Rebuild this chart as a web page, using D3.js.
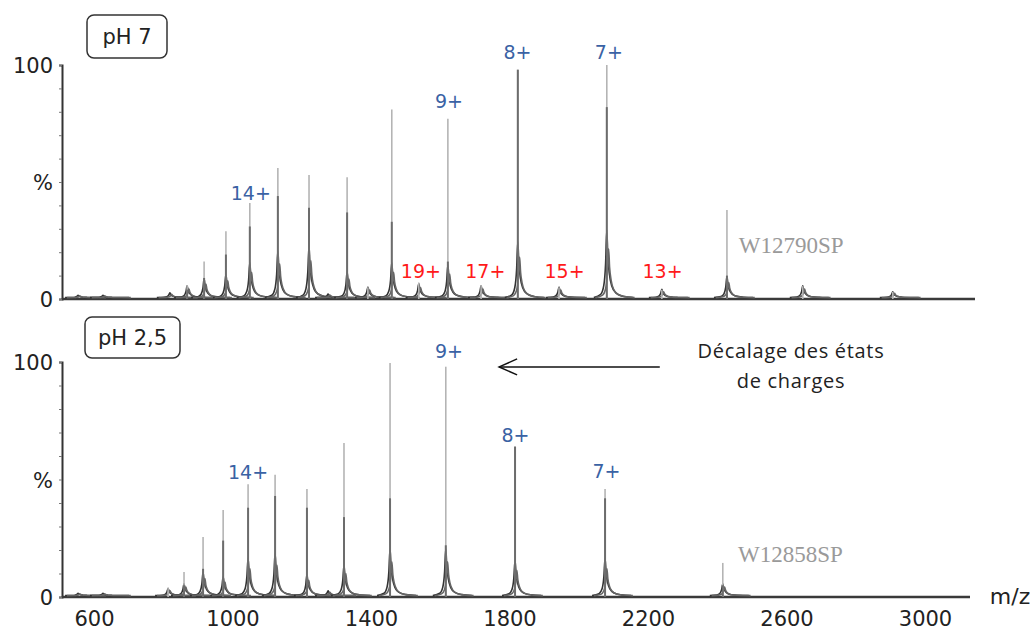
<!DOCTYPE html>
<html>
<head>
<meta charset="utf-8">
<script src="https://cdn.jsdelivr.net/npm/d3@7"></script>
<style>
  body { margin: 0; background: #fff; }
  svg { display: block; }
  .num { font-family: "DejaVu Sans", Verdana, sans-serif; fill: #222; }
  .chg { font-family: "DejaVu Sans", Verdana, sans-serif; font-size: 19px; }
  .code { font-family: "Liberation Serif", "Times New Roman", serif; font-size: 23px; fill: #9a9a9a; }
  .note { font-family: "Open Sans", sans-serif; font-size: 20px; fill: #222; letter-spacing: 0.7px; }
</style>
</head>
<body>
<svg id="chart" width="1036" height="631"></svg>
<script>
// ------------------------------------------------------------
// Data (m/z, relative intensity %)
// ------------------------------------------------------------
const mzTicks = [600, 1000, 1400, 1800, 2200, 2600, 3000];
const yTickValues = [100, 50, 0];
const yTickLabels = ['100', '%', '0'];

// pH 7
const topMz   = [554, 626, 819, 869, 918, 981, 1050, 1131, 1221, 1276, 1331, 1391, 1460, 1538, 1622, 1718, 1824, 1943, 2081, 2240, 2428, 2647, 2907];
const topInt  = [1, 1, 2, 6, 16, 29, 41, 56, 53, 1.5, 52, 5, 81, 7, 77, 6, 98, 5, 100, 4, 38, 5.5, 3];
const topCore = [0, 0, 0, 4, 9, 19, 31, 44, 39, 0, 37, 0, 33, 0, 16, 0, 98, 0, 82, 0, 10, 0, 0];
const topFoot = [1, 1, 2, 5, 8, 10, 15, 20, 22, 1.5, 11, 4.5, 15, 6, 14, 5, 24, 4.5, 29, 3.5, 9, 5, 2.5];

// pH 2,5
const botMz   = [554, 626, 814, 860, 915, 973, 1045, 1123, 1215, 1276, 1322, 1455, 1616, 1816, 2076, 2416];
const botInt  = [1, 1, 4, 10.6, 25.5, 37, 48, 52, 46, 2, 65.5, 99.6, 98, 64, 46, 14.5];
const botCore = [0, 0, 0, 5, 12, 24, 38, 43, 38, 0, 34, 42, 22, 64, 42, 5];
const botFoot = [1, 1, 3, 5, 10, 8, 16, 18, 9, 2, 13, 20, 20, 15, 16, 5];

// charge-state labels: text, m/z of label centre, label baseline in %
const topLabels = ['14+', '9+', '8+', '7+'];
const topLabelMz = [1053, 1625, 1823, 2087];
const topLabelPct = [42.3, 81.6, 102.6, 102.6];
const dimerLabels = ['19+', '17+', '15+', '13+'];
const dimerLabelMz = [1544, 1730, 1959, 2242];
const dimerLabelPct = [9, 9, 9, 9];

const botLabels = ['14+', '9+', '8+', '7+'];
const botLabelMz = [1045, 1625, 1817, 2080];
const botLabelPct = [50.2, 101.7, 66, 50.6];

// ------------------------------------------------------------
const svg = d3.select('#chart');

const x = d3.scaleLinear().domain([600, 3000]).range([94, 925]);

const panels = [
    { y: d3.scaleLinear().domain([0, 100]).range([299, 65]), x0: 62, x1: 975,
      mz: topMz, int: topInt, core: topCore, foot: topFoot, title: 'pH 7', box: [87, 15, 80, 43] },
    { y: d3.scaleLinear().domain([0, 100]).range([597, 362]), x0: 62, x1: 970,
      mz: botMz, int: botInt, core: botCore, foot: botFoot, title: 'pH 2,5', box: [85, 317, 95, 41] }
];

// peak profile template: px offset from apex, fraction of foot height
const shape = [[-13, 0], [-6, 0.05], [-3, 0.18], [-1.2, 0.5], [0, 1], [1, 0.62], [2.5, 0.36], [5, 0.17], [9, 0.07], [16, 0.02], [26, 0]];

const line = d3.line().curve(d3.curveMonotoneX);

panels.forEach((p, pi) => {
    const g = svg.append('g');

    // y axis with minor ticks
    const yAxis = d3.axisLeft(p.y).tickValues(d3.range(0, 101, 10)).tickSize(3).tickFormat('');
    const ya = g.append('g').attr('transform', `translate(${p.x0},0)`).call(yAxis);
    ya.select('.domain').attr('stroke', '#333').attr('stroke-width', 2);
    ya.selectAll('.tick line').attr('stroke', '#777').attr('stroke-width', 1);

    yTickLabels.forEach((t, i) => {
        g.append('text').attr('class', 'num')
            .attr('x', 53).attr('y', p.y(yTickValues[i]) + 8)
            .attr('text-anchor', 'end').attr('font-size', 21)
            .text(t);
    });

    // baseline (x axis)
    const xAxis = d3.axisBottom(x).tickValues(pi === 1 ? mzTicks : []).tickSize(0).tickPadding(14)
        .tickFormat(d3.format('d'));
    const xa = g.append('g').attr('transform', `translate(0,${p.y(0)})`).call(xAxis);
    xa.select('.domain').attr('d', `M${p.x0},0H${p.x1}`).attr('stroke', '#3a3a3a').attr('stroke-width', 2.5);
    xa.selectAll('.tick text').attr('class', 'num').attr('font-size', 21).attr('fill', '#222');

    // peaks
    p.mz.forEach((mz, i) => {
        const cx = x(mz);
        const foot = p.foot[i];
        // broad foot, drawn twice to mimic overlaid scans
        [[0, 1, '#333'], [1.8, 0.72, '#666']].forEach(([dx, k, col]) => {
            const pts = shape.map(([o, f]) => [cx + dx + o, p.y(0.6 + f * foot * k)]);
            g.append('path').attr('d', line(pts))
                .attr('fill', 'none').attr('stroke', col).attr('stroke-width', 1.6);
        });
        // thin stick up to the apex
        if (p.int[i] > foot) {
            g.append('line')
                .attr('x1', cx).attr('x2', cx)
                .attr('y1', p.y(0)).attr('y2', p.y(p.int[i]))
                .attr('stroke', '#b4b4b4').attr('stroke-width', 1.6);
        }
        if (p.core[i] > 0) {
            g.append('line')
                .attr('x1', cx).attr('x2', cx)
                .attr('y1', p.y(0)).attr('y2', p.y(p.core[i]))
                .attr('stroke', '#6c6c6c').attr('stroke-width', 2);
        }
    });

    // title box
    const [bx, by, bw, bh] = p.box;
    g.append('rect').attr('x', bx).attr('y', by).attr('width', bw).attr('height', bh)
        .attr('rx', 7).attr('fill', '#fff').attr('stroke', '#333').attr('stroke-width', 1.5);
    g.append('text').attr('class', 'num').attr('font-size', 21)
        .attr('x', bx + bw / 2).attr('y', by + bh / 2 + 7).attr('text-anchor', 'middle')
        .text(p.title);
});

// charge labels
function addLabels(panel, labels, mzs, pcts, color) {
    svg.append('g').selectAll('text').data(labels).join('text')
        .attr('class', 'chg').attr('fill', color).attr('text-anchor', 'middle')
        .attr('x', (d, i) => x(mzs[i]))
        .attr('y', (d, i) => panel.y(pcts[i]))
        .text(d => d);
}
addLabels(panels[0], topLabels, topLabelMz, topLabelPct, '#3a62a4');
addLabels(panels[0], dimerLabels, dimerLabelMz, dimerLabelPct, '#ff1a1a');
addLabels(panels[1], botLabels, botLabelMz, botLabelPct, '#3a62a4');

// sample codes
svg.append('text').attr('class', 'code').attr('x', x(2462)).attr('y', panels[0].y(19.7)).text('W12790SP');
svg.append('text').attr('class', 'code').attr('x', x(2460)).attr('y', panels[1].y(14.9)).text('W12858SP');

// arrow: shift of charge states
const ay = panels[1].y(97.9);
svg.append('line').attr('x1', x(2234)).attr('x2', x(1770)).attr('y1', ay).attr('y2', ay)
    .attr('stroke', '#111').attr('stroke-width', 1.5);
svg.append('path')
    .attr('d', `M${x(1770) + 18},${ay - 8}L${x(1770)},${ay}L${x(1770) + 18},${ay + 8}`)
    .attr('fill', 'none').attr('stroke', '#111').attr('stroke-width', 1.5);

svg.append('text').attr('class', 'note').attr('text-anchor', 'middle')
    .attr('x', x(2613)).attr('y', panels[1].y(101.7)).text('Décalage des états');
svg.append('text').attr('class', 'note').attr('text-anchor', 'middle')
    .attr('x', x(2613)).attr('y', panels[1].y(88.9)).text('de charges');

// axis unit
svg.append('text').attr('class', 'num').attr('font-size', 22)
    .attr('x', 1010).attr('y', 604).attr('text-anchor', 'middle').text('m/z');
</script>
</body>
</html>
